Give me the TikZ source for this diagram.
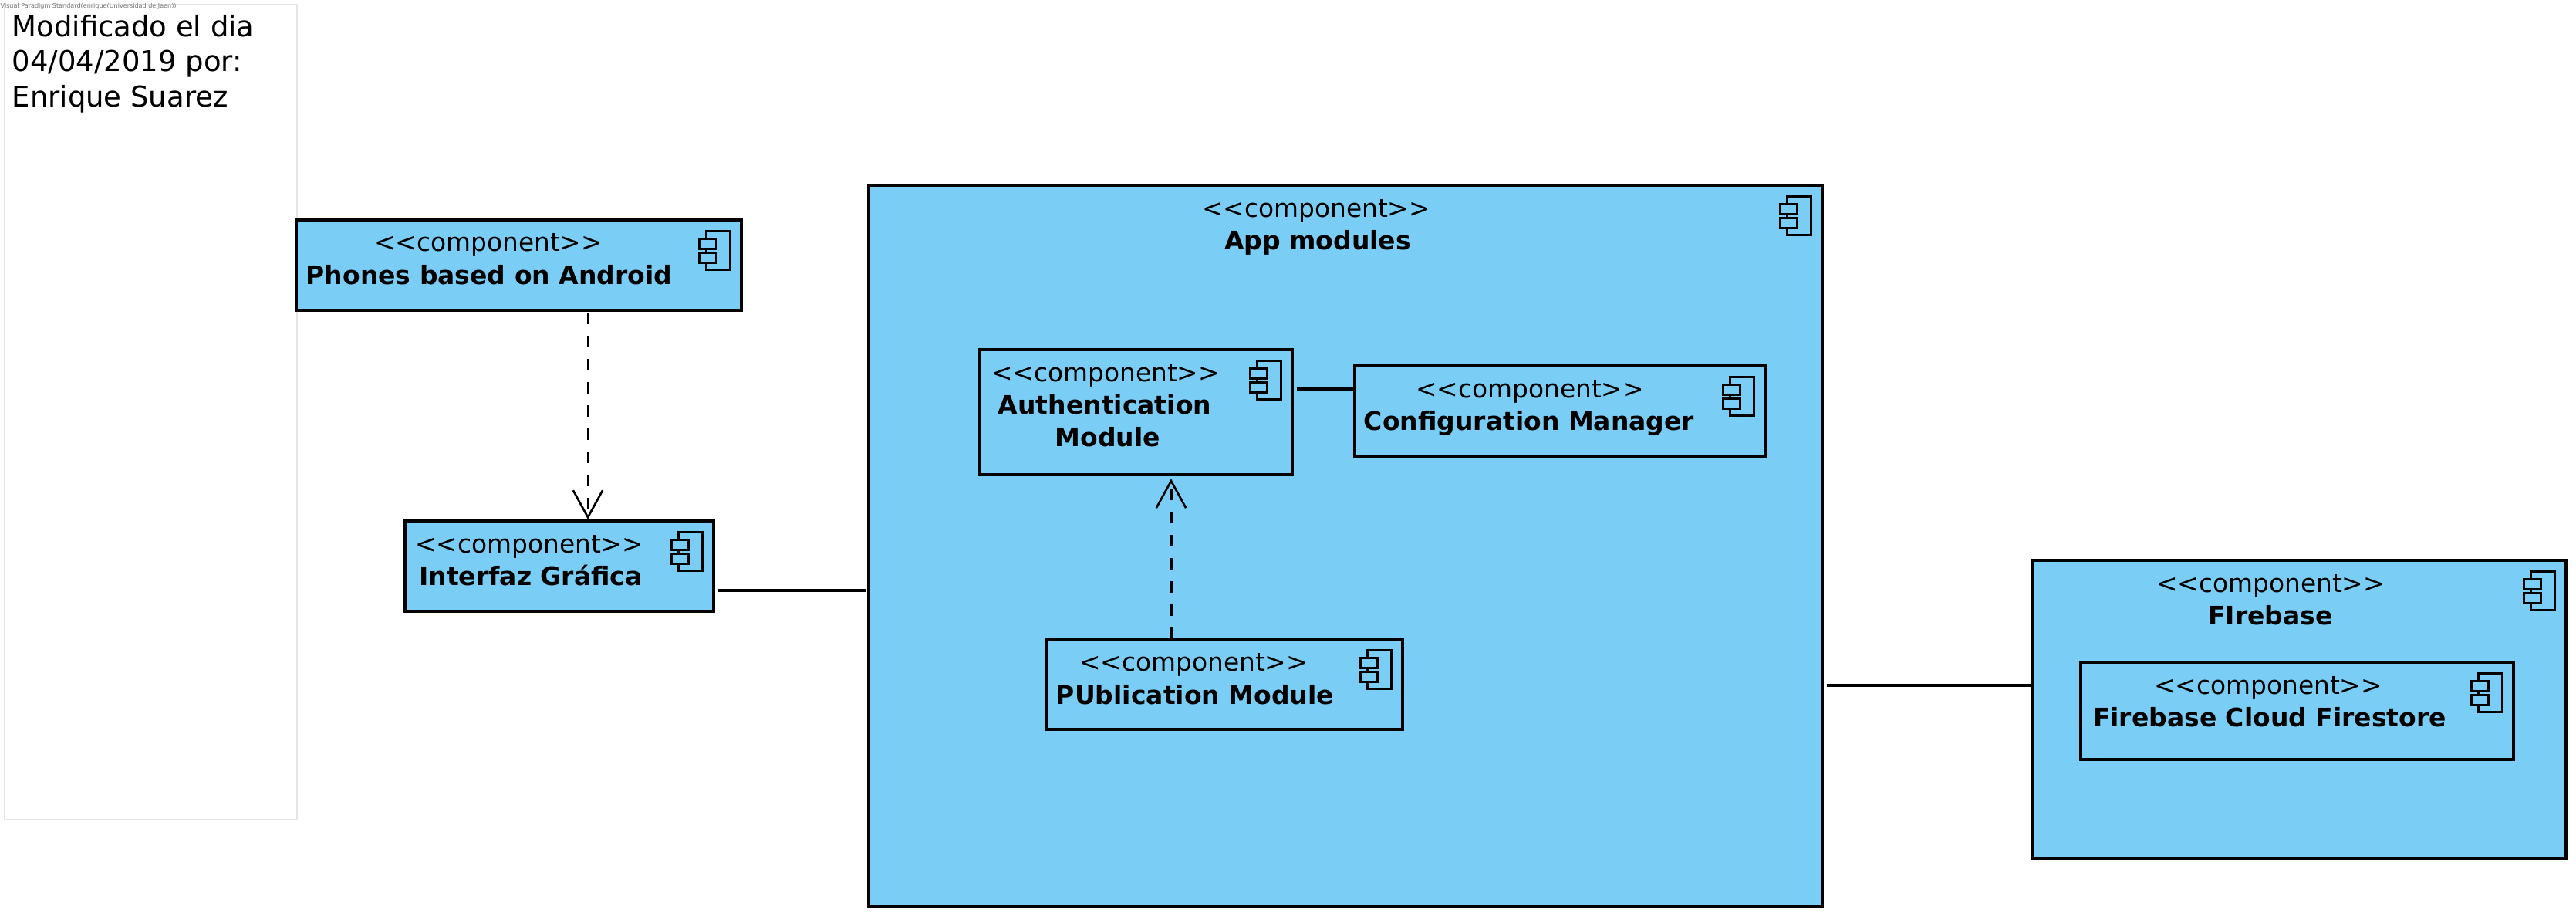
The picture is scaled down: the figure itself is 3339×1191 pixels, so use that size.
\documentclass[tikz,border=0pt]{standalone}
\usepackage{fontspec}
\setmainfont{DejaVu Sans}
\usetikzlibrary{arrows.meta,fit}
\definecolor{compblue}{HTML}{7ACEF5}
\tikzset{
  compbox/.style={draw=black,fill=compblue,line width=0.95pt,inner sep=0pt,outer sep=0pt},
  notebox/.style={draw=black!10,fill=white,line width=0.4pt,inner sep=0pt,outer sep=0pt},
  comptext/.style={anchor=base,font=\fontsize{9.85}{11}\selectfont,inner sep=0pt},
  nametext/.style={anchor=base,font=\fontsize{9.9}{11}\selectfont\bfseries,inner sep=0pt},
  notetext/.style={anchor=base west,font=\fontsize{11.1}{13}\selectfont,inner sep=0pt},
  marktext/.style={anchor=base west,font=\fontsize{2.42}{3}\selectfont,text=black!55,inner sep=0pt},
  iconline/.style={draw=black,line width=0.9pt},
  assoc/.style={draw=black,line width=0.95pt},
  depend/.style={draw=black,line width=0.9pt,dash pattern=on 4.5pt off 4.5pt,
    -{Straight Barb[length=10.5pt,width=11.5pt,line width=0.8pt]}}
}
\newcommand{\compicon}[1]{%
  \draw[iconline] ([shift={(-46,14)}]#1.north east) rectangle ([shift={(-15,64)}]#1.north east);
  \draw[iconline,fill=compblue] ([shift={(-55,24)}]#1.north east) rectangle ([shift={(-33,37)}]#1.north east);
  \draw[iconline,fill=compblue] ([shift={(-55,42)}]#1.north east) rectangle ([shift={(-33,55)}]#1.north east);
}
\begin{document}
\begin{tikzpicture}[x=0.3pt,y=-0.3pt]
\useasboundingbox (0,0) rectangle (3339,1191);
% note sheet
\node[notebox,fit={(6,6)(385,1062)}] (sheet) {};
\node[marktext] (mark) at (0,10) {Visual Paradigm Standard(enrique(Universidad de Jaen))};
\node[notetext] (note1) at (15,47) {Modificado el dia};
\node[notetext] (note2) at (15,92) {04/04/2019 por:};
\node[notetext] (note3) at (15,138) {Enrique Suarez};
% phones
\node[compbox,fit={(384,285)(961,402)}] (phones) {};
\compicon{phones}
\node[comptext] (phonesS) at (633,325) {<{}<component>{}>};
\node[nametext] (phonesN) at (634,368) {Phones based on Android};
% interface
\node[compbox,fit={(525,675)(925,792)}] (gui) {};
\compicon{gui}
\node[comptext] (guiS) at (686,716) {<{}<component>{}>};
\node[nametext] (guiN) at (688,758) {Interfaz Gráfica};
% app modules
\node[compbox,fit={(1126,240)(2362,1175)}] (app) {};
\compicon{app}
\node[comptext] (appS) at (1706,281) {<{}<component>{}>};
\node[nametext] (appN) at (1708,323) {App modules};
% auth
\node[compbox,fit={(1270,453)(1675,615)}] (auth) {};
\compicon{auth}
\node[comptext] (authS) at (1433,494) {<{}<component>{}>};
\node[nametext] (authN) at (1432,536) {Authentication};
\node[nametext] (authM) at (1436,578) {Module};
% config
\node[compbox,fit={(1756,474)(2288,591)}] (config) {};
\compicon{config}
\node[comptext] (configS) at (1983,515) {<{}<component>{}>};
\node[nametext] (configN) at (1982,557) {Configuration Manager};
% publication
\node[compbox,fit={(1356,828)(1818,945)}] (pub) {};
\compicon{pub}
\node[comptext] (pubS) at (1547,869) {<{}<component>{}>};
\node[nametext] (pubN) at (1549,912) {PUblication Module};
% firebase
\node[compbox,fit={(2635,726)(3326,1112)}] (fire) {};
\compicon{fire}
\node[comptext] (fireS) at (2943,767) {<{}<component>{}>};
\node[nametext] (fireN) at (2943,809) {FIrebase};
% cloud
\node[compbox,fit={(2697,858)(3258,984)}] (cloud) {};
\compicon{cloud}
\node[comptext] (cloudS) at (2940,899) {<{}<component>{}>};
\node[nametext] (cloudN) at (2942,941) {Firebase Cloud Firestore};
% connectors
\draw[assoc,shorten <=1.8pt,shorten >=1pt] (gui.east |- 0,765) -- (app.west |- 0,765);
\draw[assoc,shorten <=1.8pt,shorten >=1pt] (app.east |- 0,888) -- (fire.west |- 0,888);
\draw[assoc,shorten <=1.8pt,shorten >=0.6pt] (auth.east |- 0,504) -- (config.west |- 0,504);
\draw[depend,shorten <=0.9pt,shorten >=0.6pt] (phones.south -| 762,0) -- (gui.north -| 762,0);
\draw[depend,shorten >=1.6pt] (pub.north -| 1518,0) -- (auth.south -| 1518,0);
\end{tikzpicture}
\end{document}
